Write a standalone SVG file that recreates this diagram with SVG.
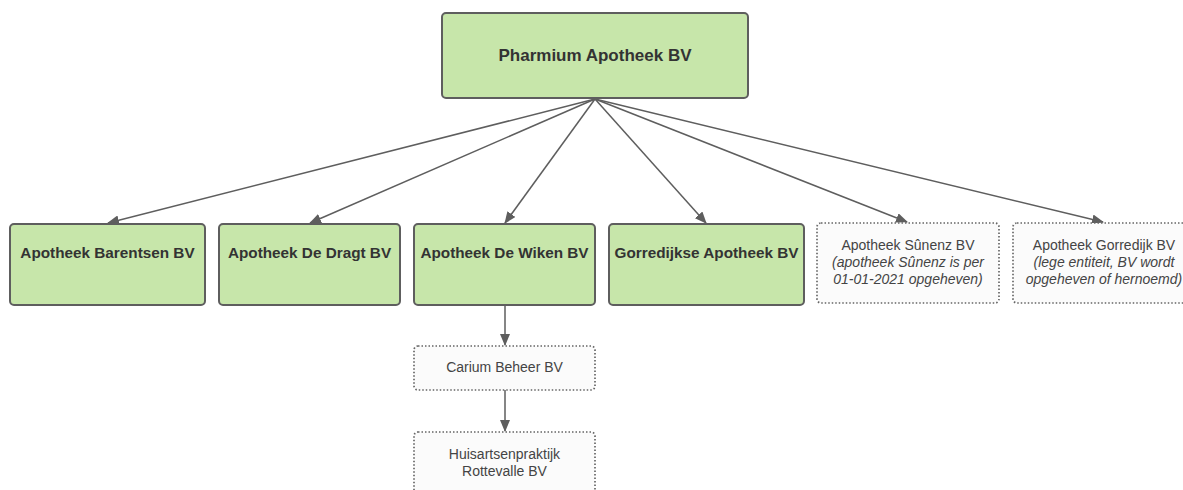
<svg xmlns="http://www.w3.org/2000/svg" width="1183" height="490" viewBox="0 0 1183 490">
<style>
.solid{fill:#c7e6aa;stroke:#5e5e5e;stroke-width:2}
.dot{fill:#fbfbfb;stroke:#666;stroke-width:1.7;stroke-dasharray:1.5 2}
.tb{font-family:"Liberation Sans",Arial,sans-serif;font-weight:bold;fill:#333;text-anchor:middle}
.tr{font-family:"Liberation Sans",Arial,sans-serif;font-size:14px;fill:#444;text-anchor:middle}
.it{font-style:italic}
.con{stroke:#5e5e5e;stroke-width:1.5;fill:none;marker-end:url(#ah)}
</style>
<defs>
<marker id="ah" viewBox="0 0 12 10" refX="11" refY="5" markerWidth="12" markerHeight="10" markerUnits="userSpaceOnUse" orient="auto">
<path d="M0,0 L12,5 L0,10 z" fill="#5e5e5e"/>
</marker>
</defs>
<rect width="1183" height="490" fill="#fff"/>
<g id="connectors">
<line class="con" x1="595" y1="99" x2="108" y2="223"/>
<line class="con" x1="595" y1="99" x2="310" y2="223"/>
<line class="con" x1="595" y1="99" x2="505" y2="223"/>
<line class="con" x1="595" y1="99" x2="706" y2="223"/>
<line class="con" x1="595" y1="99" x2="907" y2="222"/>
<line class="con" x1="595" y1="99" x2="1103" y2="222"/>
<line class="con" x1="505" y1="305" x2="505" y2="345"/>
<line class="con" x1="505" y1="390" x2="505" y2="431"/>
</g>
<g id="pharmium">
<rect class="solid" x="442" y="13" width="306" height="85" rx="4"/>
<text class="tb" x="595" y="61" font-size="17">Pharmium Apotheek BV</text>
</g>
<g id="barentsen">
<rect class="solid" x="10" y="224" width="195" height="81" rx="4"/>
<text class="tb" x="107.5" y="258" font-size="15.3">Apotheek Barentsen BV</text>
</g>
<g id="dedragt">
<rect class="solid" x="219" y="224" width="181" height="81" rx="4"/>
<text class="tb" x="309.5" y="258" font-size="15.3">Apotheek De Dragt BV</text>
</g>
<g id="dewiken">
<rect class="solid" x="414" y="224" width="181" height="81" rx="4"/>
<text class="tb" x="504.5" y="258" font-size="15.3">Apotheek De Wiken BV</text>
</g>
<g id="gorredijkse">
<rect class="solid" x="609" y="224" width="195" height="81" rx="4"/>
<text class="tb" x="706.5" y="258" font-size="15.3">Gorredijkse Apotheek BV</text>
</g>
<g id="sunenz">
<rect class="dot" x="817" y="223" width="182" height="80" rx="4"/>
<text class="tr" x="908" y="250">Apotheek Sûnenz BV</text>
<text class="tr it" x="908" y="267">(apotheek Sûnenz is per</text>
<text class="tr it" x="908" y="284">01-01-2021 opgeheven)</text>
</g>
<g id="gorredijk">
<rect class="dot" x="1013" y="223" width="182" height="80" rx="4"/>
<text class="tr" x="1104" y="250">Apotheek Gorredijk BV</text>
<text class="tr it" x="1104" y="267">(lege entiteit, BV wordt</text>
<text class="tr it" x="1104" y="284">opgeheven of hernoemd)</text>
</g>
<g id="carium">
<rect class="dot" x="414" y="346" width="181" height="44" rx="4"/>
<text class="tr" x="504.5" y="372">Carium Beheer BV</text>
</g>
<g id="huisarts">
<rect class="dot" x="414" y="432" width="181" height="70" rx="4"/>
<text class="tr" x="504.5" y="459">Huisartsenpraktijk</text>
<text class="tr" x="504.5" y="476">Rottevalle BV</text>
</g>
</svg>
